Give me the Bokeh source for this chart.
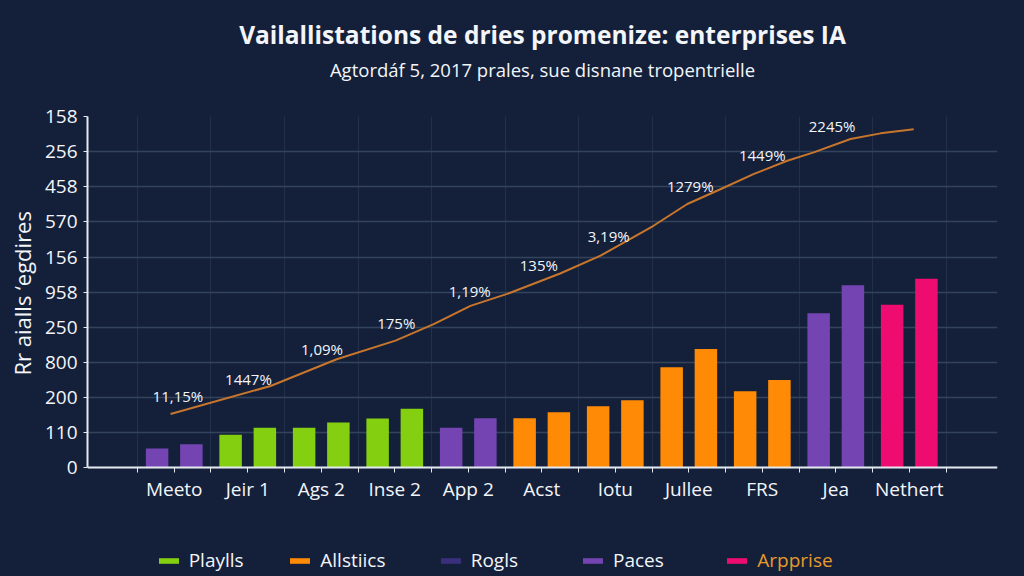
from bokeh.plotting import figure
from bokeh.models import (Range1d, FixedTicker, Legend, LegendItem, Title,
                          ColumnDataSource)
from bokeh.core.properties import value
from bokeh.embed import file_html
from bokeh.resources import INLINE

# ---------------- data ----------------
categories = ["Meeto", "Jeir 1", "Ags 2", "Inse 2", "App 2", "Acst",
              "Iotu", "Jullee", "FRS", "Jea", "Nethert"]

# two bars per category (left, right)
bar_values = [55, 67, 94, 114, 114, 129, 140, 168, 114, 141, 141, 158,
              175, 192, 286, 338, 218, 250, 440, 520, 464, 538]
bar_series = ["Paces", "Paces", "Playlls", "Playlls", "Playlls", "Playlls",
              "Playlls", "Playlls", "Paces", "Paces", "Allstiics", "Allstiics",
              "Allstiics", "Allstiics", "Allstiics", "Allstiics", "Allstiics",
              "Allstiics", "Paces", "Paces", "Arpprise", "Arpprise"]

series_names = ["Playlls", "Allstiics", "Rogls", "Paces", "Arpprise"]
series_colors = ["#84cf10", "#ff8a05", "#3a2f7c", "#7444b2", "#ee0c70"]
legend_text_colors = ["#f3f5f9", "#f3f5f9", "#f3f5f9", "#f3f5f9", "#e89a2c"]

# trend line (category position, level)
line_x = [-0.05, 1.31, 2.21, 3.01, 3.53, 4.03, 4.53, 5.25, 5.80, 6.20,
          6.52, 6.98, 7.43, 7.88, 8.34, 8.70, 9.20, 9.61, 10.06]
line_y = [153, 233, 309, 362, 409, 461, 495, 553, 604, 651, 689, 751,
          793, 836, 874, 898, 936, 952, 964]

# percentage labels along the trend
label_texts = ["11,15%", "1447%", "1,09%", "175%", "1,19%", "135%",
               "3,19%", "1279%", "1449%", "2245%"]
label_x = [0.05, 1.01, 2.01, 3.02, 4.02, 4.96, 5.91, 7.02, 8.0, 8.95]
label_y = [203, 252, 338, 411, 502, 576, 660, 803, 891, 973]

# y tick labels (bottom to top)
y_tick_values = [0, 100, 200, 300, 400, 500, 600, 700, 800, 900, 1000]
y_tick_labels = ["0", "110", "200", "800", "250", "958", "156", "570",
                 "458", "256", "158"]

title_text = "Vailallistations de dries promenize: enterprises IA"
subtitle_text = "Agtordáf 5, 2017 prales, sue disnane tropentrielle"
y_axis_label = "Rr aialls \u2018egdires"

# ---------------- styling ----------------
BG = "#14203a"
TXT = "#f3f5f9"
FONT = "Open Sans"
bar_offset = 0.233
bar_width = 0.306

# the frame reaches the bottom edge so the legend row can live inside it;
# the x axis is pinned at y = 0
p = figure(width=1024, height=576, output_backend="svg", toolbar_location=None,
           x_range=Range1d(-1.18, 11.2), y_range=Range1d(-309.4, 1000),
           min_border_left=87, min_border_right=27, min_border_top=116,
           min_border_bottom=0, background_fill_color=BG,
           border_fill_color=BG, border_fill_alpha=0,
           outline_line_color=None, title=None)
p.styles = {"background-color": BG}

# titles (first added is nearest to the frame)
p.add_layout(Title(text=" ", text_font_size="1px", text_color=BG,
                   standoff=30), "above")
p.add_layout(Title(text=subtitle_text, align="center", text_font=FONT,
                   text_font_size="18.5px", text_font_style="normal",
                   text_color=TXT, standoff=4), "above")
p.add_layout(Title(text=title_text, align="center", text_font=FONT,
                   text_font_size="24.5px", text_font_style="bold",
                   text_color=TXT, standoff=4), "above")

# y axis title (placed along the 0..1000 part of the axis)
p.add_layout(Title(text=y_axis_label, align="left", offset=201,
                   text_font=FONT, text_font_size="22px",
                   text_font_style="normal", text_color=TXT, standoff=9),
             "left")

# grids
p.ygrid.grid_line_color = "#34435c"
p.ygrid.grid_line_width = 1.5
p.xgrid.ticker = FixedTicker(ticks=[i + 0.5 for i in range(-1, len(categories))])
p.xgrid.grid_line_color = "#223049"
p.xgrid.grid_line_width = 1
try:
    p.xgrid.cross_bounds = (0, 1000)
except Exception:
    p.xgrid.visible = False

# axes
xa = p.xaxis[0]
xa.fixed_location = 0
xa.ticker = FixedTicker(ticks=list(range(len(categories))),
                        minor_ticks=[i + 0.5 for i in range(-1, len(categories))])
xa.major_label_overrides = {i: c for i, c in enumerate(categories)}
xa.axis_line_color = "#e4e9f0"
xa.axis_line_width = 2
xa.major_tick_line_color = "#e4e9f0"
xa.minor_tick_line_color = "#e4e9f0"
xa.major_tick_in = 0
xa.major_tick_out = 5
xa.minor_tick_in = 0
xa.minor_tick_out = 5
xa.major_label_text_color = TXT
xa.major_label_text_font = FONT
xa.major_label_text_font_size = "19px"
xa.major_label_standoff = 3

ya = p.yaxis[0]
ya.bounds = (0, 1000)
ya.ticker = FixedTicker(ticks=y_tick_values)
ya.major_label_overrides = {v: t for v, t in zip(y_tick_values, y_tick_labels)}
ya.minor_tick_line_color = None
ya.axis_line_color = "#e4e9f0"
ya.axis_line_width = 2
ya.major_tick_line_color = "#e4e9f0"
ya.major_tick_in = 0
ya.major_tick_out = 4
ya.major_label_text_color = TXT
ya.major_label_text_font = FONT
ya.major_label_text_font_size = "19px"
ya.major_label_standoff = 6

# bars, one renderer per series
bar_x = []
for i in range(len(categories)):
    bar_x.append(i - bar_offset)
    bar_x.append(i + bar_offset)

renderers = {}
for name, color in zip(series_names, series_colors):
    xs = [x for x, s in zip(bar_x, bar_series) if s == name]
    ys = [v for v, s in zip(bar_values, bar_series) if s == name]
    if not xs:  # series without visible bars: a zero-height bar as legend key
        xs, ys = [0], [0]
    src = ColumnDataSource(data=dict(x=xs, top=ys))
    renderers[name] = p.vbar(x="x", top="top", bottom=0, width=bar_width,
                             source=src, fill_color=color, line_color=None)

# trend line and labels
p.line(line_x, line_y, line_color="#c8762c", line_width=2)
p.text(x=label_x, y=label_y, text=label_texts, text_align="center",
       text_baseline="middle", text_font=value(FONT), text_font_size="15px",
       text_color=TXT)

# ---------------- legend row (one legend per entry) ----------------
legend_x = [68.7, 200.3, 350.7, 493, 637.3]  # offsets from the frame's left
for name, lx, tc in zip(series_names, legend_x, legend_text_colors):
    leg = Legend(items=[LegendItem(label=name, renderers=[renderers[name]])],
                 location=(lx, 3), orientation="horizontal",
                 background_fill_alpha=0, border_line_color=None,
                 padding=0, spacing=0, margin=0, glyph_width=25, glyph_height=7,
                 label_standoff=8, label_height=26,
                 label_text_color=tc, label_text_font=FONT,
                 label_text_font_size="19px")
    p.add_layout(leg, "center")

html = file_html(p, INLINE, title="chart")
html = html.replace("<body", '<body style="background-color:%s"' % BG, 1)
open("out.html", "w").write(html)
